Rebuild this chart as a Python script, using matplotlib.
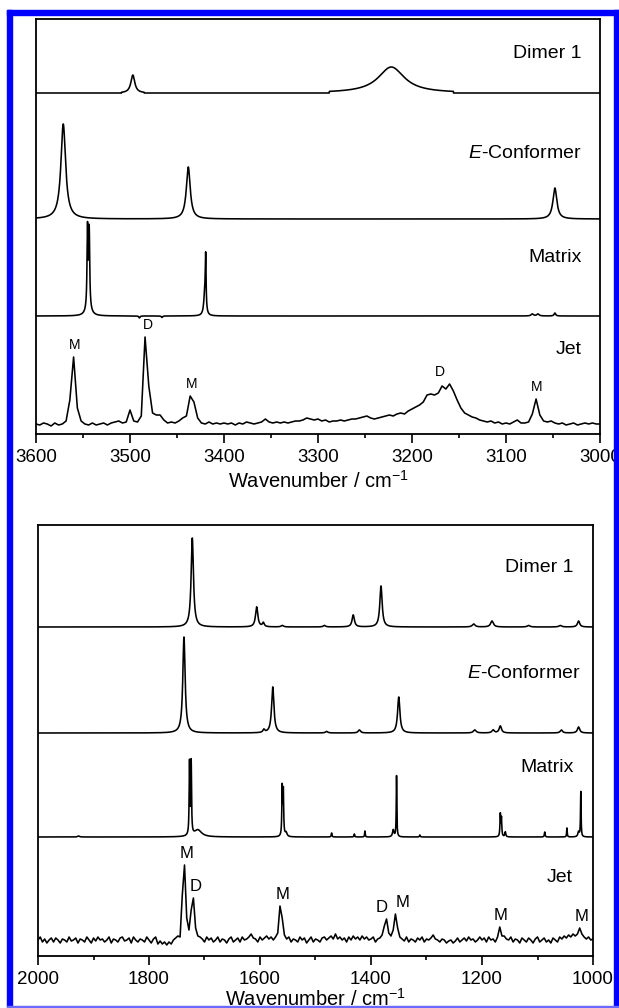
import numpy as np
import matplotlib.pyplot as plt
from matplotlib.ticker import MultipleLocator
from matplotlib.patches import Rectangle

plt.rcParams['font.family'] = ['Liberation Sans', 'DejaVu Sans']
plt.rcParams['mathtext.fontset'] = 'custom'
plt.rcParams['mathtext.rm'] = 'Liberation Sans'
plt.rcParams['mathtext.it'] = 'Liberation Sans:italic'

# ---------------- 3600-3000 cm-1 region ----------------
# calculated / matrix bands: centre (cm-1), height, fwhm (cm-1)
xh_dimer_pos = [3497, 3222]
xh_dimer_h = [18, 26]
xh_dimer_w = [5, 34]
xh_dimer_cut = [12, 66]

xh_econf_pos = [3571, 3438, 3048]
xh_econf_h = [95, 52, 31]
xh_econf_w = [6, 5, 5]

xh_matrix_pos = [3545.2, 3543.4, 3544, 3419.5, 3420.5, 3490, 3466, 3072, 3066, 3048]
xh_matrix_h = [80, 76, 8, 52, 20, -2, -1.5, 2, 2, 3]
xh_matrix_w = [1.2, 1.2, 6, 1.0, 2.5, 1.5, 1.5, 3, 3, 2]

# jet spectrum, 3600 -> 3000 cm-1 in 4 cm-1 steps
xh_jet_wn = np.arange(3600, 2999, -4)
xh_jet = [
    0, -1, 1, 0, -2, 1, -1, 0, 3, 24,
    67, 16, 3, 0, -1, 1, -1, 0, 1, -1,
    1, 2, 3, 1, 2, 14, 3, 2, 8, 87,
    38, 11, 9, 9, 4, 1, 2, 1, 3, 6,
    8, 28, 22, 6, 1, 0, 2, 0, 1, 0,
    1, 0, 1, -1, 1, 0, 2, 1, 0, 1,
    2, 5, 2, 1, 2, 1, 2, 1, 2, 3,
    3, 4, 6, 5, 4, 5, 3, 4, 2, 3,
    3, 4, 3, 4, 5, 5, 6, 7, 8, 6,
    5, 6, 7, 8, 9, 8, 10, 11, 10, 13,
    15, 17, 19, 22, 29, 30, 29, 31, 38, 35,
    40, 33, 24, 16, 11, 9, 7, 6, 4, 3,
    2, 3, 1, 2, 0, 1, 0, 2, 4, 1,
    1, 2, 10, 25, 9, 3, 2, 3, 1, 0,
    1, -1, 0, 1, -1, 0, 1, 0, 1, 0,
    0,
]
xh_tags = ['M', 'D', 'M', 'D', 'M']
xh_tag_wn = [3559, 3481, 3434, 3170, 3067]

# ---------------- 2000-1000 cm-1 region ----------------
fp_dimer_pos = [1722, 1606, 1594, 1560, 1484, 1432, 1382, 1215, 1182, 1116, 1059, 1026]
fp_dimer_h = [89, 20, 4, 1.5, 1.5, 12, 41, 3, 6, 1.5, 1.5, 6]
fp_dimer_w = [5, 5, 4, 5, 5, 5, 5, 6, 6, 6, 6, 5]

fp_econf_pos = [1737, 1593, 1577, 1480, 1421, 1350, 1213, 1180, 1167, 1057, 1026]
fp_econf_h = [96, 3, 46, 1.5, 3, 36, 3, 3, 7, 3, 6]
fp_econf_w = [5, 4, 5, 5, 5, 5, 6, 5, 5, 5, 5]

fp_matrix_pos = [1927, 1727, 1724, 1712, 1560, 1558, 1553, 1471, 1430, 1411, 1360, 1354,
                 1312, 1167, 1165, 1158, 1087, 1047, 1026, 1022]
fp_matrix_h = [1, 72, 72, 7, 48, 44, 4, 4, 3, 6, 7, 61,
               2, 22, 18, 5, 5, 9, 5, 45]
fp_matrix_w = [4, 1.5, 1.5, 16, 1.5, 1.5, 4, 1.5, 1.5, 1.2, 3, 1.2,
               1.5, 1.5, 1.5, 2, 1.5, 1.2, 3, 1.2]

# jet spectrum, 2000 -> 1000 cm-1 in 4 cm-1 steps
fp_jet_wn = np.arange(2000, 999, -4)
fp_jet = [
    0, 3, -2, 1, -3, 0, 2, -2, 2, 0,
    -3, 1, 0, -2, 3, -1, 0, 2, -3, 1,
    0, -2, 3, 0, -3, 2, -1, 3, 0, 1,
    -2, 0, 3, -3, 1, 0, -2, 2, 3, -1,
    0, 2, -3, 3, 0, -2, 1, 0, -2, 3,
    0, -3, 1, 3, -4, -1, -4, -2, -5, -2,
    -4, 0, 2, 4, 3, 45, 75, 22, 10, 30,
    42, 12, 4, 3, 1, -2, 3, 0, 2, -2,
    0, 3, -2, 1, 0, -3, 1, 3, -2, 0,
    2, -2, 3, 0, 1, 3, 6, 2, 1, -2,
    3, 0, 2, 4, 1, 3, 0, 3, 7, 34,
    22, 5, 1, 3, -2, 1, 0, -2, 3, 0,
    2, -3, 0, 3, -2, 1, 0, -2, 2, 3,
    0, 2, 4, 1, 6, 1, 3, 0, 2, -2,
    3, 0, 4, 1, 3, 0, 4, 1, 3, 0,
    1, 3, -2, 1, 2, 5, 14, 21, 7, 4,
    10, 26, 12, 3, 1, -1, 3, -2, 1, 0,
    -2, 2, 0, 3, -2, 1, 0, 2, 5, 1,
    0, -2, 1, 0, -3, -1, 0, -3, -1, 2,
    -2, 0, 2, -1, 3, 0, 1, -2, 0, 3,
    0, 2, -2, 3, 0, 1, -2, 3, 13, 4,
    4, 1, 0, 3, -2, 1, 0, -3, 2, 0,
    -2, 2, 0, -3, 1, 3, -2, 0, 2, -2,
    0, -3, 2, 0, -2, 3, 1, 4, 2, 5,
    3, 6, 4, 6, 12, 6, 3, 1, 3, 0,
    1,
]
fp_tags = ['M', 'D', 'M', 'D', 'M', 'M', 'M']
fp_tag_wn = [1733, 1716, 1559, 1380, 1344, 1167, 1021]


def lorentz_sum(grid, pos, height, fwhm, cut=None):
    y = np.zeros_like(grid)
    for i, (p, h, w) in enumerate(zip(pos, height, fwhm)):
        band = h / (1 + ((grid - p) / (w / 2)) ** 2)
        if cut is not None:
            band[np.abs(grid - p) > cut[i]] = 0
        y += band
    return y


def style_axes(ax, lo, hi, major, minor, labelpad):
    ax.set_xlim(lo, hi)
    ax.xaxis.set_major_locator(MultipleLocator(major))
    ax.xaxis.set_minor_locator(MultipleLocator(minor))
    ax.set_yticks([])
    ax.tick_params(axis='x', which='major', direction='out', length=6.5, width=1.2,
                   labelsize=13.5, pad=4, top=False)
    ax.tick_params(axis='x', which='minor', direction='out', length=3.2, width=1.2, top=False)
    for s in ax.spines.values():
        s.set_linewidth(1.3)
    ax.set_xlabel(r'Wavenumber / cm$^{-1}$', fontsize=14.5, labelpad=labelpad)


def tag_peaks(ax, wn, jet, base, tags, tag_wn, pad, size):
    wn = np.asarray(wn)
    jet = np.asarray(jet)
    for t, x in zip(tags, tag_wn):
        top = jet[np.abs(wn - x) <= 12].max()
        ax.text(x, base + top + pad, t, ha='center', va='bottom', fontsize=size)


fig = plt.figure(figsize=(6.19, 10.08), dpi=100)
lw = 1.15
label_kw = dict(ha='right', va='center', fontsize=14)

# top panel
ax1 = fig.add_axes([36 / 619, 1 - 434 / 1008, 564 / 619, 415 / 1008])
g1 = np.linspace(3600, 3000, 6001)
base1 = {'dimer': 341, 'econf': 215, 'matrix': 118, 'jet': 10}
ax1.plot(g1, base1['dimer'] + lorentz_sum(g1, xh_dimer_pos, xh_dimer_h, xh_dimer_w, xh_dimer_cut), 'k', lw=lw)
ax1.plot(g1, base1['econf'] + lorentz_sum(g1, xh_econf_pos, xh_econf_h, xh_econf_w), 'k', lw=lw)
ax1.plot(g1, base1['matrix'] + lorentz_sum(g1, xh_matrix_pos, xh_matrix_h, xh_matrix_w), 'k', lw=lw)
ax1.plot(xh_jet_wn, base1['jet'] + np.asarray(xh_jet), 'k', lw=lw)
ax1.set_ylim(0, 415)
style_axes(ax1, 3600, 3000, 100, 50, 3)
tag_peaks(ax1, xh_jet_wn, xh_jet, base1['jet'], xh_tags, xh_tag_wn, 5, 10)
t1 = ax1.get_yaxis_transform()
ax1.text(0.967, 381, 'Dimer 1', transform=t1, **label_kw)
ax1.text(0.967, 281, r'$\it{E}$-Conformer', transform=t1, **label_kw)
ax1.text(0.967, 177, 'Matrix', transform=t1, **label_kw)
ax1.text(0.967, 84, 'Jet', transform=t1, **label_kw)

# bottom panel
ax2 = fig.add_axes([38 / 619, 1 - 956 / 1008, 555 / 619, 431 / 1008])
g2 = np.linspace(2000, 1000, 10001)
base2 = {'dimer': 329, 'econf': 223, 'matrix': 119, 'jet': 16}
ax2.plot(g2, base2['dimer'] + lorentz_sum(g2, fp_dimer_pos, fp_dimer_h, fp_dimer_w), 'k', lw=lw)
ax2.plot(g2, base2['econf'] + lorentz_sum(g2, fp_econf_pos, fp_econf_h, fp_econf_w), 'k', lw=lw)
ax2.plot(g2, base2['matrix'] + lorentz_sum(g2, fp_matrix_pos, fp_matrix_h, fp_matrix_w), 'k', lw=lw)
ax2.plot(fp_jet_wn, base2['jet'] + np.asarray(fp_jet), 'k', lw=lw)
ax2.set_ylim(0, 431)
style_axes(ax2, 2000, 1000, 200, 100, 0)
tag_peaks(ax2, fp_jet_wn, fp_jet, base2['jet'], fp_tags, fp_tag_wn, 4, 12)
t2 = ax2.get_yaxis_transform()
ax2.text(0.965, 388, 'Dimer 1', transform=t2, **label_kw)
ax2.text(0.977, 283, r'$\it{E}$-Conformer', transform=t2, **label_kw)
ax2.text(0.965, 188, 'Matrix', transform=t2, **label_kw)
ax2.text(0.963, 79, 'Jet', transform=t2, **label_kw)

# blue frame
W, H = 619, 1008
blue = '#0000ff'
fig.patches.append(Rectangle((7 / W, 1 - 15 / H), 612 / W, 5 / H, transform=fig.transFigure, color=blue, zorder=10))
fig.patches.append(Rectangle((7 / W, 1 - 1007 / H), 5 / W, 997 / H, transform=fig.transFigure, color=blue, zorder=10))
fig.patches.append(Rectangle((614 / W, 1 - 1007 / H), 5 / W, 997 / H, transform=fig.transFigure, color=blue, zorder=10))
fig.patches.append(Rectangle((7 / W, 1 - 1007 / H), 612 / W, 1.2 / H, transform=fig.transFigure, color='#6a6aff', zorder=10))

fig.savefig('out.png', dpi=100)
